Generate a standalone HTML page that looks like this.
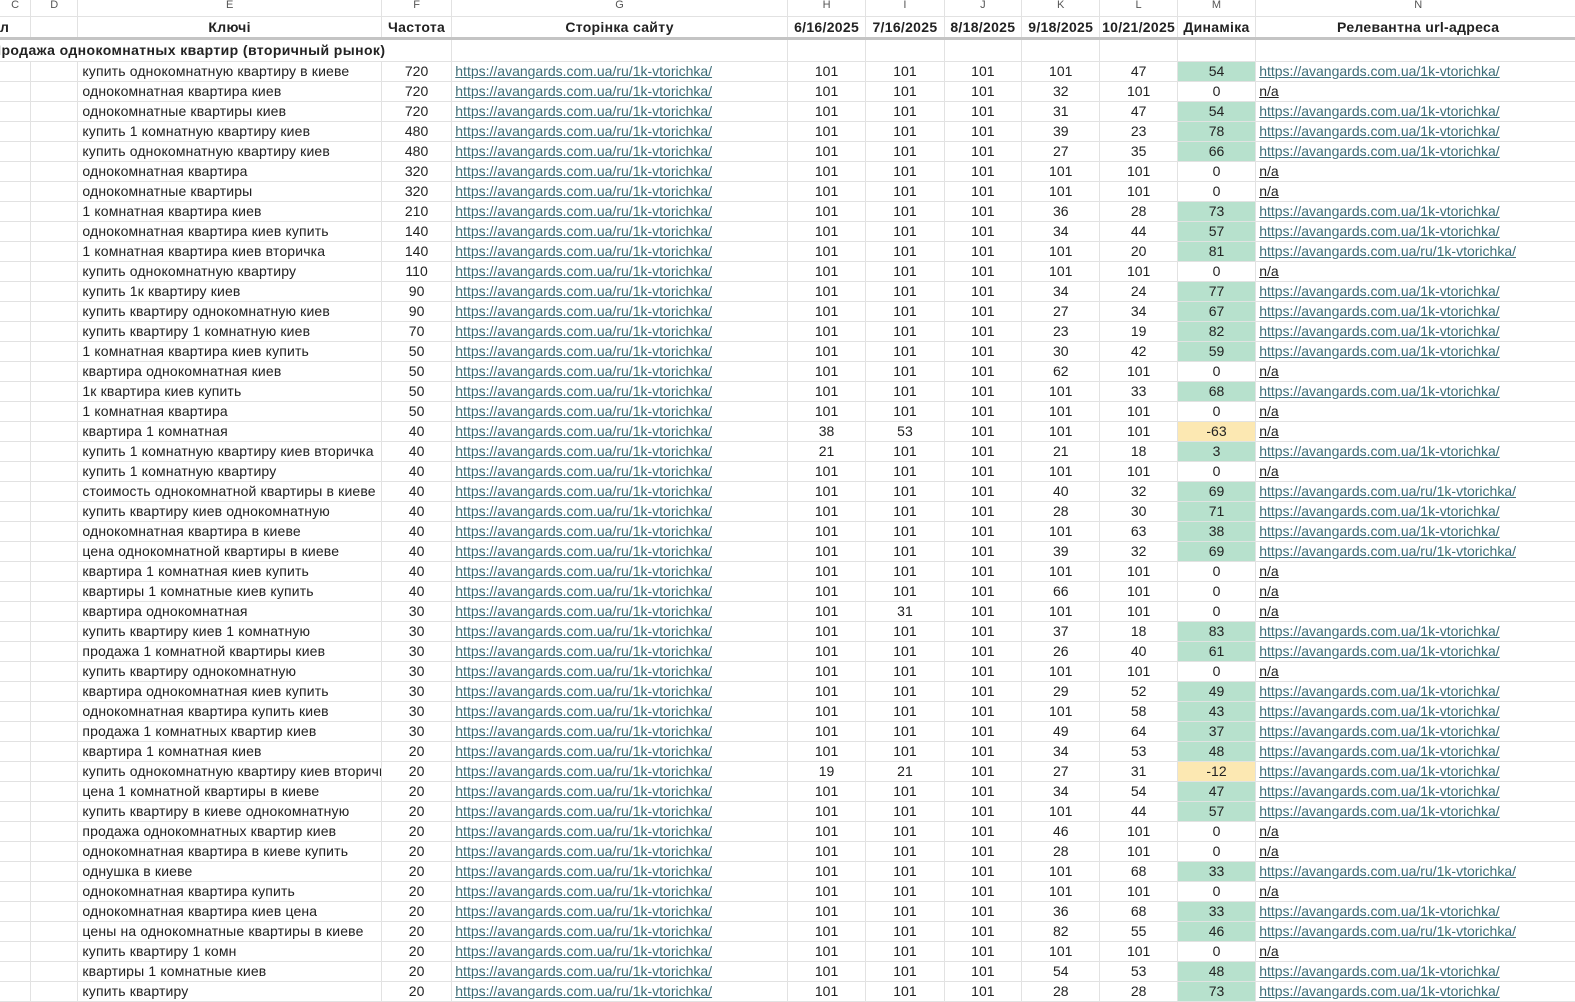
<!DOCTYPE html>
<html><head><meta charset="utf-8"><style>
body{margin:0;width:1575px;height:989px;overflow:hidden;background:#fff;font-family:"Liberation Sans",sans-serif;font-size:14px;color:#222;position:relative}
.r{position:absolute;left:0;width:1620px;display:flex;height:20px;box-sizing:border-box;border-bottom:1px solid #e2e2e2;white-space:nowrap}
.r>span{box-sizing:border-box;border-right:1px solid #e2e2e2;overflow:hidden;line-height:19px;flex:none}
.r>span:nth-child(1){width:31.2px}.r>span:nth-child(2){width:47.2px}.r>span:nth-child(3){width:303.5px;padding-left:4px;letter-spacing:0.15px}
.r>span:nth-child(4){width:70.4px;text-align:center}.r>span:nth-child(5){width:335.6px;padding-left:3px}
.r>span:nth-child(6),.r>span:nth-child(7),.r>span:nth-child(9),.r>span:nth-child(11){width:78.4px;text-align:center}
.r>span:nth-child(8),.r>span:nth-child(10){width:77.4px;text-align:center}
.r>span:nth-child(12){width:325px;padding-left:3px}
a,u{color:#3d6d78;text-decoration:underline}
u.n{color:#222}
.g{background:#b7e1cd}.y{background:#fce8b2}
.L{top:0;height:17px;color:#555;font-size:11px}.L>span{text-align:center!important;line-height:10px;padding-left:0!important;letter-spacing:0!important}
.H{top:17px;font-weight:bold;border-bottom:3px solid #c4c4c4}.H>span{text-align:center!important;padding-left:0!important;line-height:21px;letter-spacing:0.3px!important}
.S{top:40px;height:22px;font-weight:bold}
</style></head><body>
<div class="r L"><span>C</span><span>D</span><span>E</span><span>F</span><span>G</span><span>H</span><span>I</span><span>J</span><span>K</span><span>L</span><span>M</span><span>N</span></div>
<div class="r H" style="height:23px"><span style="text-align:left!important">л</span><span></span><span>Ключі</span><span>Частота</span><span>Сторінка сайту</span><span>6/16/2025</span><span>7/16/2025</span><span>8/18/2025</span><span>9/18/2025</span><span>10/21/2025</span><span>Динаміка</span><span>Релевантна url-адреса</span></div>
<div class="r S"><span style="width:452.3px;border-right:1px solid #e2e2e2;padding-left:0;position:relative"><b style="position:absolute;left:-9px;top:1px;letter-spacing:0.4px">Продажа однокомнатных квартир (вторичный рынок)</b></span><span style="width:335.6px"></span><span style="width:78.4px"></span><span style="width:78.4px"></span><span style="width:77.4px"></span><span style="width:78.4px"></span><span style="width:77.4px"></span><span style="width:78.4px"></span><span style="width:325px"></span></div>
<div id="rows"></div>
<script>
var A="https://avangards.com.ua/1k-vtorichka/",R="https://avangards.com.ua/ru/1k-vtorichka/",N="n/a";
var d=[["купить однокомнатную квартиру в киеве",720,101,101,101,101,47,54,A],
["однокомнатная квартира киев",720,101,101,101,32,101,0,N],
["однокомнатные квартиры киев",720,101,101,101,31,47,54,A],
["купить 1 комнатную квартиру киев",480,101,101,101,39,23,78,A],
["купить однокомнатную квартиру киев",480,101,101,101,27,35,66,A],
["однокомнатная квартира",320,101,101,101,101,101,0,N],
["однокомнатные квартиры",320,101,101,101,101,101,0,N],
["1 комнатная квартира киев",210,101,101,101,36,28,73,A],
["однокомнатная квартира киев купить",140,101,101,101,34,44,57,A],
["1 комнатная квартира киев вторичка",140,101,101,101,101,20,81,R],
["купить однокомнатную квартиру",110,101,101,101,101,101,0,N],
["купить 1к квартиру киев",90,101,101,101,34,24,77,A],
["купить квартиру однокомнатную киев",90,101,101,101,27,34,67,A],
["купить квартиру 1 комнатную киев",70,101,101,101,23,19,82,A],
["1 комнатная квартира киев купить",50,101,101,101,30,42,59,A],
["квартира однокомнатная киев",50,101,101,101,62,101,0,N],
["1к квартира киев купить",50,101,101,101,101,33,68,A],
["1 комнатная квартира",50,101,101,101,101,101,0,N],
["квартира 1 комнатная",40,38,53,101,101,101,-63,N],
["купить 1 комнатную квартиру киев вторичка",40,21,101,101,21,18,3,A],
["купить 1 комнатную квартиру",40,101,101,101,101,101,0,N],
["стоимость однокомнатной квартиры в киеве",40,101,101,101,40,32,69,R],
["купить квартиру киев однокомнатную",40,101,101,101,28,30,71,A],
["однокомнатная квартира в киеве",40,101,101,101,101,63,38,A],
["цена однокомнатной квартиры в киеве",40,101,101,101,39,32,69,R],
["квартира 1 комнатная киев купить",40,101,101,101,101,101,0,N],
["квартиры 1 комнатные киев купить",40,101,101,101,66,101,0,N],
["квартира однокомнатная",30,101,31,101,101,101,0,N],
["купить квартиру киев 1 комнатную",30,101,101,101,37,18,83,A],
["продажа 1 комнатной квартиры киев",30,101,101,101,26,40,61,A],
["купить квартиру однокомнатную",30,101,101,101,101,101,0,N],
["квартира однокомнатная киев купить",30,101,101,101,29,52,49,A],
["однокомнатная квартира купить киев",30,101,101,101,101,58,43,A],
["продажа 1 комнатных квартир киев",30,101,101,101,49,64,37,A],
["квартира 1 комнатная киев",20,101,101,101,34,53,48,A],
["купить однокомнатную квартиру киев вторичка",20,19,21,101,27,31,-12,A],
["цена 1 комнатной квартиры в киеве",20,101,101,101,34,54,47,A],
["купить квартиру в киеве однокомнатную",20,101,101,101,101,44,57,A],
["продажа однокомнатных квартир киев",20,101,101,101,46,101,0,N],
["однокомнатная квартира в киеве купить",20,101,101,101,28,101,0,N],
["однушка в киеве",20,101,101,101,101,68,33,R],
["однокомнатная квартира купить",20,101,101,101,101,101,0,N],
["однокомнатная квартира киев цена",20,101,101,101,36,68,33,A],
["цены на однокомнатные квартиры в киеве",20,101,101,101,82,55,46,R],
["купить квартиру 1 комн",20,101,101,101,101,101,0,N],
["квартиры 1 комнатные киев",20,101,101,101,54,53,48,A],
["купить квартиру",20,101,101,101,28,28,73,A]];
var h="";d.forEach(function(x,i){var m=x[7],c=m>0?"g":(m<0?"y":"");
h+='<div class="r" style="top:'+(62+i*20.0).toFixed(2)+'px"><span></span><span></span><span>'+x[0]+'</span><span>'+x[1]+'</span><span><a>'+R+'</a></span><span>'+x[2]+'</span><span>'+x[3]+'</span><span>'+x[4]+'</span><span>'+x[5]+'</span><span>'+x[6]+'</span><span class="'+c+'">'+m+'</span><span>'+(x[8]==N?'<u class="n">n/a</u>':'<a>'+x[8]+'</a>')+'</span></div>';});
document.getElementById("rows").innerHTML=h;
</script>
</body></html>
